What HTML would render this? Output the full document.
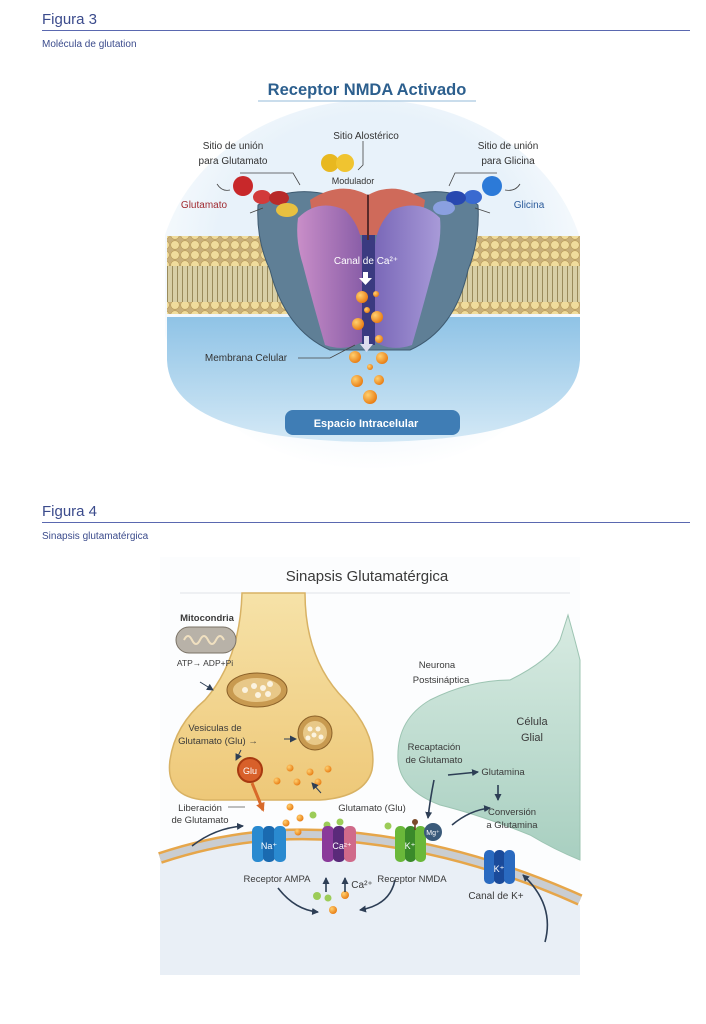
<!DOCTYPE html>
<html><head><meta charset="utf-8"><style>
html,body{margin:0;padding:0;background:#fff;}
svg{display:block;font-family:"Liberation Sans",sans-serif;}
</style></head><body>
<svg width="706" height="1024" viewBox="0 0 706 1024" xmlns="http://www.w3.org/2000/svg">
<defs>
<clipPath id="c1"><rect x="165" y="65" width="415" height="415"/></clipPath>
<linearGradient id="cyto" x1="0" y1="0" x2="0" y2="1"><stop offset="0" stop-color="#8fc3e6"/><stop offset="1" stop-color="#d4e9f6"/></linearGradient>
<radialGradient id="bg1" cx="0.5" cy="0.4" r="0.6"><stop offset="0.6" stop-color="#e8f2fa"/><stop offset="1" stop-color="#ffffff"/></radialGradient>
<radialGradient id="orb" cx="0.35" cy="0.35" r="0.7"><stop offset="0" stop-color="#ffd070"/><stop offset="1" stop-color="#e87a10"/></radialGradient>
<linearGradient id="pinkL" x1="0" y1="0" x2="1" y2="0"><stop offset="0" stop-color="#c98ec8"/><stop offset="1" stop-color="#8a5ea8"/></linearGradient>
<linearGradient id="violR" x1="0" y1="0" x2="1" y2="0"><stop offset="0" stop-color="#7a68b8"/><stop offset="1" stop-color="#a89ad8"/></linearGradient>
<linearGradient id="yel" x1="0" y1="0" x2="0" y2="1"><stop offset="0" stop-color="#f6e2a8"/><stop offset="1" stop-color="#eec878"/></linearGradient>
<linearGradient id="grn" x1="0" y1="0" x2="0" y2="1"><stop offset="0" stop-color="#d8ebe2"/><stop offset="1" stop-color="#a8cfc0"/></linearGradient>
<pattern id="heads" width="10" height="10" patternUnits="userSpaceOnUse"><rect width="10" height="10" fill="#c9b07a"/><circle cx="5" cy="5" r="4.3" fill="#f0dc9c" stroke="#b89a58" stroke-width="0.6"/></pattern>
<pattern id="tails" width="5" height="10" patternUnits="userSpaceOnUse"><rect width="5" height="10" fill="#d8cfa6"/><line x1="2.5" y1="0" x2="2.5" y2="10" stroke="#8a7a48" stroke-width="0.8"/></pattern>
<marker id="ah" markerWidth="7" markerHeight="7" refX="6" refY="3.5" orient="auto" markerUnits="userSpaceOnUse"><path d="M0,0 L7,3.5 L0,7 z" fill="#2d3e55"/></marker>
<marker id="ah2" markerWidth="9" markerHeight="9" refX="7" refY="4.5" orient="auto" markerUnits="userSpaceOnUse"><path d="M0,0 L9,4.5 L0,9 z" fill="#d86a2a"/></marker>
</defs>

<text x="42" y="24" font-size="15" fill="#3b4b8c">Figura 3</text>
<line x1="42" y1="30.5" x2="690" y2="30.5" stroke="#5a68b0" stroke-width="1"/>
<text x="42" y="47" font-size="10" fill="#3b4b8c">Molécula de glutation</text>

<g clip-path="url(#c1)">
<rect x="165" y="65" width="415" height="415" fill="#fff"/>
<ellipse cx="372" cy="285" rx="215" ry="185" fill="url(#bg1)"/>
<text x="367" y="95" font-size="16.5" font-weight="bold" fill="#2c5f8e" text-anchor="middle">Receptor NMDA Activado</text>
<line x1="258" y1="101" x2="476" y2="101" stroke="#b8d2e6" stroke-width="1.5"/>
<path d="M167,317 L580,317 L580,360 Q575,440 372,442 Q170,440 167,360 z" fill="url(#cyto)"/>
<rect x="167" y="236" width="413" height="30" fill="url(#heads)"/>
<rect x="167" y="266" width="413" height="36" fill="url(#tails)"/>
<rect x="167" y="302" width="413" height="12" fill="url(#heads)"/>
<rect x="285" y="410" width="175" height="25" rx="8" fill="#3f7db5"/>
<text x="366" y="427" font-size="11" font-weight="bold" fill="#fff" text-anchor="middle">Espacio Intracelular</text>
<path d="M258,205 Q290,185 330,195 L410,195 Q450,185 478,205 Q480,240 468,270 Q455,330 410,350 L330,350 Q285,330 270,270 Q256,240 258,205 z" fill="#5f7f96" stroke="#3e5a70" stroke-width="1"/>
<path d="M310,200 Q340,180 368,195 Q395,180 425,200 L420,235 L315,235 z" fill="#cf6a5a"/>
<path d="M298,218 Q318,198 345,210 Q360,225 362,245 L362,342 Q345,352 325,345 Q312,300 303,265 Q295,240 298,218 z" fill="url(#pinkL)"/>
<path d="M440,218 Q420,198 392,210 Q377,225 375,245 L375,342 Q392,352 412,345 Q425,300 434,265 Q442,240 440,218 z" fill="url(#violR)"/>
<rect x="362" y="235" width="13" height="110" fill="#3a3a80"/>
<line x1="368" y1="195" x2="368" y2="240" stroke="#5a2a2a" stroke-width="2"/>
<circle cx="243" cy="186" r="10" fill="#c8282a"/>
<ellipse cx="262" cy="197" rx="9" ry="7" fill="#d23a3a"/>
<ellipse cx="279" cy="198" rx="10" ry="7" fill="#b82a2a"/>
<ellipse cx="287" cy="210" rx="11" ry="7" fill="#e8c040"/>
<circle cx="492" cy="186" r="10" fill="#2c7ad8"/>
<ellipse cx="473" cy="197" rx="9" ry="7" fill="#3a6ad0"/>
<ellipse cx="456" cy="198" rx="10" ry="7" fill="#2848b0"/>
<ellipse cx="444" cy="208" rx="11" ry="7" fill="#8aa0e0"/>
<circle cx="330" cy="163" r="9" fill="#e8b820"/>
<circle cx="345" cy="163" r="9" fill="#f0c430"/>
<g fill="url(#orb)">
<circle cx="362" cy="297" r="6"/><circle cx="376" cy="294" r="3"/><circle cx="367" cy="310" r="3"/><circle cx="377" cy="317" r="6"/><circle cx="358" cy="324" r="6"/><circle cx="379" cy="339" r="4"/><circle cx="355" cy="357" r="6"/><circle cx="382" cy="358" r="6"/><circle cx="370" cy="367" r="3"/><circle cx="357" cy="381" r="6"/><circle cx="379" cy="380" r="5"/><circle cx="370" cy="397" r="7"/>
</g>
<path d="M363,272 l5,0 l0,6 l4,0 l-6.5,7 l-6.5,-7 l4,0 z" fill="#fff"/>
<path d="M364,336 l5,0 l0,8 l4,0 l-6.5,8 l-6.5,-8 l4,0 z" fill="#dde"/>
<text x="366" y="264" font-size="10" fill="#fff" text-anchor="middle">Canal de Ca²⁺</text>
<g font-size="10" fill="#333" text-anchor="middle">
<text x="366" y="139">Sitio Alostérico</text>
<text x="233" y="149">Sitio de unión</text>
<text x="233" y="164">para Glutamato</text>
<text x="508" y="149">Sitio de unión</text>
<text x="508" y="164">para Glicina</text>
<text x="353" y="184" font-size="9">Modulador</text>
<text x="204" y="208" fill="#a02a30">Glutamato</text>
<text x="529" y="208" fill="#2a5a9a">Glicina</text>
<text x="246" y="361">Membrana Celular</text>
</g>
<g stroke="#444" fill="none" stroke-width="0.8">
<path d="M363,141 L363,165 L358,170"/><path d="M217,184 Q222,192 230,190"/><path d="M520,184 Q515,192 505,190"/>
<path d="M240,173 L293,173 L300,185"/><path d="M497,173 L455,173 L449,186"/>
<path d="M250,213 L263,208"/><path d="M490,213 L475,208"/><path d="M298,358 L330,358 L355,345"/>
</g>
</g>

<text x="42" y="516" font-size="15" fill="#3b4b8c">Figura 4</text>
<line x1="42" y1="522.5" x2="690" y2="522.5" stroke="#5a68b0" stroke-width="1"/>
<text x="42" y="539" font-size="10" fill="#3b4b8c">Sinapsis glutamatérgica</text>

<rect x="160" y="557" width="420" height="418" fill="#fcfdfe"/>
<text x="367" y="581" font-size="15" fill="#3a3a3a" text-anchor="middle">Sinapsis Glutamatérgica</text>
<line x1="180" y1="593" x2="570" y2="593" stroke="#e0e3e8" stroke-width="1"/>
<path d="M160,860 Q250,830 340,838 Q460,850 580,905 L580,975 L160,975 z" fill="#e9eff6"/>
<path d="M568,615 Q575,640 580,660 L580,860 Q555,850 530,835 Q480,815 440,805 Q400,790 398,760 Q396,720 430,700 Q470,680 510,680 Q550,660 560,640 z" fill="url(#grn)" stroke="#9cc4b2" stroke-width="1"/>
<path d="M242,593 L305,593 Q305,660 345,700 Q378,735 372,770 Q365,797 320,800 L205,800 Q165,797 170,760 Q175,725 205,700 Q240,660 242,593 z" fill="url(#yel)" stroke="#d8b264" stroke-width="1.5"/>
<path d="M160,858 Q250,828 340,836 Q460,846 580,900" fill="none" stroke="#e6a64a" stroke-width="12"/>
<path d="M160,858 Q250,828 340,836 Q460,846 580,900" fill="none" stroke="#c9cdd2" stroke-width="7"/>
<rect x="176" y="627" width="60" height="26" rx="13" fill="#b8b2a8" stroke="#7a7266"/>
<path d="M184,640 q4,-8 8,0 t8,0 t8,0 t8,0 t8,0" fill="none" stroke="#f0e0c0" stroke-width="2"/>
<ellipse cx="257" cy="690" rx="30" ry="17" fill="#c89a50" stroke="#8a6028"/>
<ellipse cx="257" cy="690" rx="24" ry="12" fill="#e8c888"/>
<g fill="#fbf3e0"><circle cx="245" cy="690" r="3"/><circle cx="254" cy="686" r="3"/><circle cx="263" cy="688" r="3"/><circle cx="270" cy="684" r="3"/><circle cx="258" cy="695" r="3"/><circle cx="268" cy="694" r="3"/></g>
<circle cx="315" cy="733" r="17" fill="#c89a50" stroke="#8a6028"/>
<circle cx="315" cy="733" r="12" fill="#e8c888"/>
<g fill="#fbf3e0"><circle cx="310" cy="729" r="2.5"/><circle cx="318" cy="729" r="2.5"/><circle cx="314" cy="735" r="2.5"/><circle cx="321" cy="737" r="2.5"/><circle cx="308" cy="738" r="2.5"/></g>
<circle cx="250" cy="770" r="12" fill="#d8602a" stroke="#a83a10" stroke-width="2"/>
<text x="250" y="774" font-size="9" fill="#fff" text-anchor="middle">Glu</text>
<path d="M252,783 L263,810" stroke="#d86a2a" stroke-width="3" fill="none" marker-end="url(#ah2)"/>
<g fill="url(#orb)">
<circle cx="290" cy="768" r="3.5"/><circle cx="310" cy="772" r="3.5"/><circle cx="328" cy="769" r="3.5"/><circle cx="277" cy="781" r="3.5"/><circle cx="297" cy="782" r="3.5"/><circle cx="318" cy="782" r="3.5"/><circle cx="290" cy="807" r="3.5"/><circle cx="300" cy="818" r="3.5"/><circle cx="286" cy="823" r="3.5"/><circle cx="298" cy="832" r="3.5"/><circle cx="345" cy="895" r="4"/><circle cx="333" cy="910" r="4"/>
</g>
<g fill="#9ccc58"><circle cx="313" cy="815" r="3.5"/><circle cx="327" cy="825" r="3.5"/><circle cx="340" cy="822" r="3.5"/><circle cx="388" cy="826" r="3.5"/><circle cx="317" cy="896" r="4"/><circle cx="328" cy="898" r="3.5"/></g>
<rect x="252" y="826" width="12" height="36" rx="5" fill="#2a8ad0"/><rect x="263" y="826" width="12" height="36" rx="5" fill="#1a6ab0"/><rect x="274" y="826" width="12" height="36" rx="5" fill="#2a8ad0"/>
<text x="269" y="849" font-size="9" fill="#fff" text-anchor="middle">Na⁺</text>
<rect x="322" y="826" width="12" height="36" rx="5" fill="#8a3a9a"/><rect x="333" y="826" width="12" height="36" rx="5" fill="#5a2a7a"/><rect x="344" y="826" width="12" height="36" rx="5" fill="#d06a8a"/>
<text x="342" y="849" font-size="9" fill="#fff" text-anchor="middle">Ca²⁺</text>
<rect x="395" y="826" width="11" height="36" rx="5" fill="#6ab83a"/><rect x="405" y="826" width="11" height="36" rx="5" fill="#3a8a2a"/><rect x="415" y="826" width="11" height="36" rx="5" fill="#6ab83a"/>
<text x="410" y="849" font-size="9" fill="#fff" text-anchor="middle">K⁺</text>
<circle cx="433" cy="832" r="9" fill="#3a5a7a"/><text x="433" y="835" font-size="7" fill="#fff" text-anchor="middle">Mg⁺</text>
<line x1="415" y1="822" x2="415" y2="830" stroke="#6a3a1a" stroke-width="1.5"/><circle cx="415" cy="822" r="3" fill="#7a4a2a"/>
<rect x="484" y="850" width="11" height="34" rx="5" fill="#2a6ac0"/><rect x="494" y="850" width="11" height="34" rx="5" fill="#1a4a9a"/><rect x="504" y="850" width="11" height="34" rx="5" fill="#2a6ac0"/>
<text x="499" y="872" font-size="9" fill="#fff" text-anchor="middle">K⁺</text>
<g stroke="#2d3e55" stroke-width="1.6" fill="none" marker-end="url(#ah)">
<path d="M192,846 Q215,828 243,826"/>
<path d="M278,888 Q295,910 318,912"/>
<path d="M395,880 Q390,905 360,910"/>
<path d="M326,892 L326,878"/><path d="M345,892 L345,878"/>
<path d="M545,942 Q555,905 523,875"/>
<path d="M452,825 Q470,810 490,808"/>
<path d="M434,780 Q430,800 428,818"/>
<path d="M448,775 L478,772"/>
<path d="M498,785 L498,800"/>
<path d="M321,793 L312,783" stroke-width="1"/>
<path d="M200,682 L213,690" stroke-width="1"/>
<path d="M241,750 L236,760" stroke-width="1"/>
<path d="M284,739 L296,739" stroke-width="1"/>
</g>
<g font-size="9.5" fill="#3a3a3a" text-anchor="middle">
<text x="207" y="621" font-weight="bold">Mitocondria</text>
<text x="205" y="666" font-size="8.5">ATP→ ADP+Pi</text>
<text x="215" y="731">Vesiculas de</text>
<text x="218" y="744">Glutamato (Glu) →</text>
<text x="200" y="811">Liberación</text>
<text x="200" y="823">de Glutamato</text>
<text x="372" y="811">Glutamato (Glu)</text>
<text x="437" y="668">Neurona</text>
<text x="441" y="683">Postsináptica</text>
<text x="532" y="725" font-size="11">Célula</text>
<text x="532" y="741" font-size="11">Glial</text>
<text x="434" y="750">Recaptación</text>
<text x="434" y="763">de Glutamato</text>
<text x="503" y="775">Glutamina</text>
<text x="512" y="815">Conversión</text>
<text x="512" y="828">a Glutamina</text>
<text x="277" y="882">Receptor AMPA</text>
<text x="412" y="882">Receptor NMDA</text>
<text x="362" y="888" font-size="10">Ca²⁺</text>
<text x="496" y="899" font-size="10">Canal de K+</text>
</g>
<line x1="228" y1="807" x2="245" y2="807" stroke="#555" stroke-width="0.8"/>
</svg>
</body></html>
